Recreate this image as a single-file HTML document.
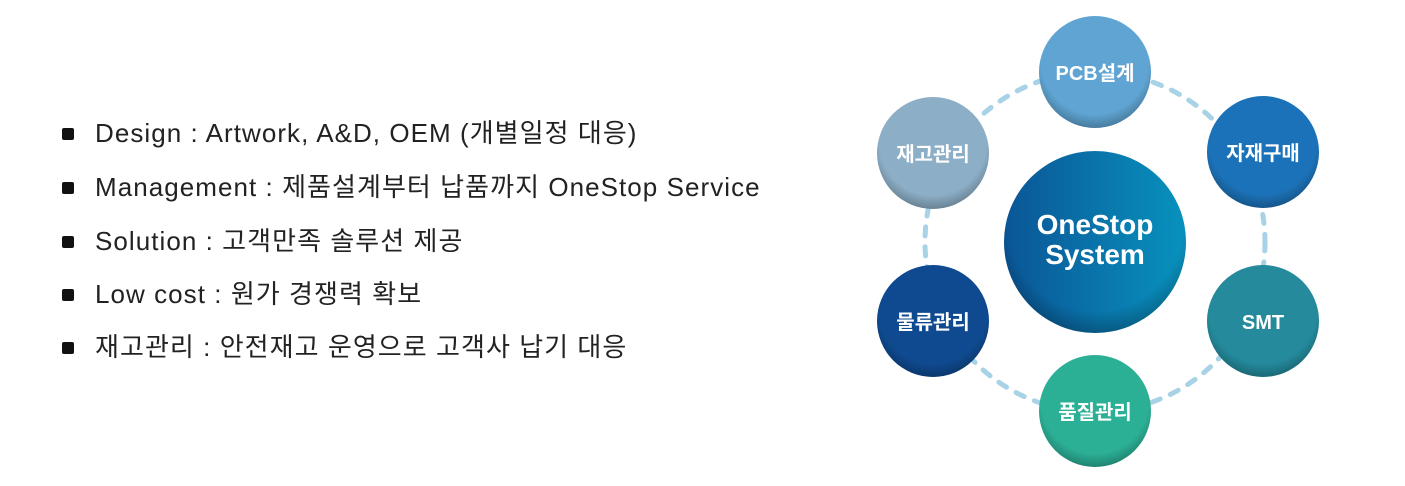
<!DOCTYPE html>
<html><head><meta charset="utf-8"><style>
body{margin:0;width:1405px;height:486px;background:#fff;overflow:hidden;position:relative;font-family:"Liberation Sans","Noto Sans CJK KR",sans-serif}
.li{position:absolute;left:62px;font-size:26px;letter-spacing:1.05px;color:#222;white-space:nowrap;line-height:30px}
.li:before{content:"";position:absolute;left:0;top:10px;width:12px;height:12px;background:#111;border-radius:2px}
.li span{margin-left:33px}
</style></head><body>
<div class="li" style="top:118px"><span>Design : Artwork, A&amp;D, OEM (개별일정 대응)</span></div>
<div class="li" style="top:172px"><span>Management : 제품설계부터 납품까지 OneStop Service</span></div>
<div class="li" style="top:226px"><span>Solution : 고객만족 솔루션 제공</span></div>
<div class="li" style="top:279px"><span>Low cost : 원가 경쟁력 확보</span></div>
<div class="li" style="top:332px"><span>재고관리 : 안전재고 운영으로 고객사 납기 대응</span></div>
<svg width="1405" height="486" style="position:absolute;left:0;top:0">
<defs>
<radialGradient id="sh" cx="50%" cy="40%" r="60%"><stop offset="80%" stop-color="#000" stop-opacity="0"/><stop offset="100%" stop-color="#000" stop-opacity="0.25"/></radialGradient>
<linearGradient id="big" x1="0" x2="1"><stop offset="0" stop-color="#0a5596"/><stop offset="1" stop-color="#0892be"/></linearGradient>
</defs>
<circle cx="1095" cy="242" r="170" fill="none" stroke="#a8d2e6" stroke-width="5" stroke-dasharray="9 11" stroke-linecap="round"/>
<g font-family="Liberation Sans, Noto Sans CJK KR, sans-serif" font-weight="bold" fill="#fff" text-anchor="middle">
<circle cx="1095" cy="72" r="56" fill="#5fa4d2"/><circle cx="1095" cy="72" r="56" fill="url(#sh)"/><text x="1095" y="80" font-size="20">PCB설계</text>
<circle cx="1263" cy="152" r="56" fill="#1c72b8"/><circle cx="1263" cy="152" r="56" fill="url(#sh)"/><text x="1263" y="160" font-size="20">자재구매</text>
<circle cx="1263" cy="321" r="56" fill="#248a9c"/><circle cx="1263" cy="321" r="56" fill="url(#sh)"/><text x="1263" y="329" font-size="20">SMT</text>
<circle cx="1095" cy="411" r="56" fill="#2bb096"/><circle cx="1095" cy="411" r="56" fill="url(#sh)"/><text x="1095" y="419" font-size="20">품질관리</text>
<circle cx="933" cy="321" r="56" fill="#0f4a90"/><circle cx="933" cy="321" r="56" fill="url(#sh)"/><text x="933" y="329" font-size="20">물류관리</text>
<circle cx="933" cy="153" r="56" fill="#8caec6"/><circle cx="933" cy="153" r="56" fill="url(#sh)"/><text x="933" y="161" font-size="20">재고관리</text>
<circle cx="1095" cy="242" r="91" fill="url(#big)"/><circle cx="1095" cy="242" r="91" fill="url(#sh)"/>
<text x="1095" y="234" font-size="28">OneStop</text><text x="1095" y="264" font-size="28">System</text>
</g>
</svg>
</body></html>
